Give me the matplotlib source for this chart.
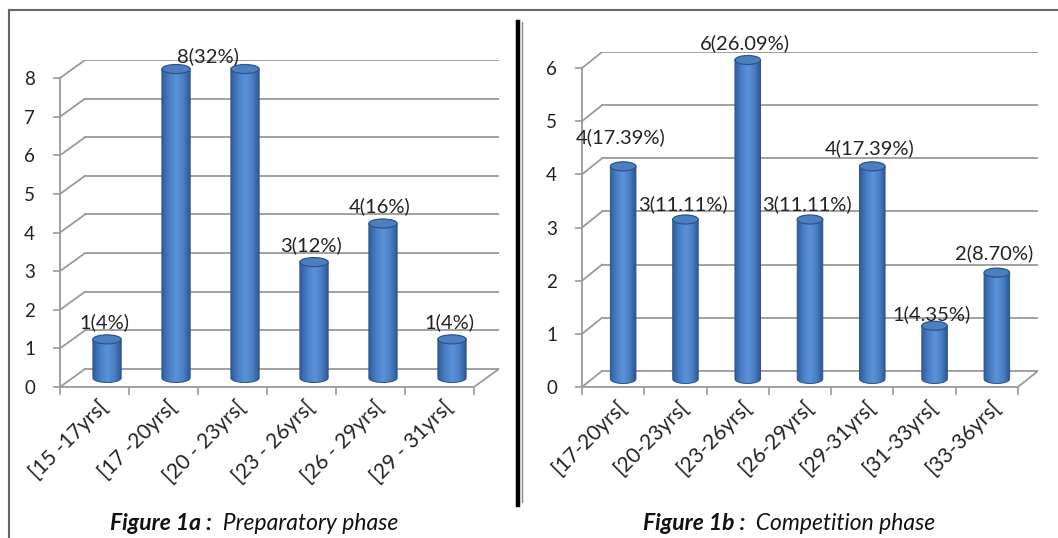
import matplotlib.pyplot as plt
import numpy as np
from matplotlib.patches import Ellipse, Polygon
from matplotlib.colors import LinearSegmentedColormap

plt.rcParams['font.family'] = ['Lato', 'DejaVu Sans']

W, H = 1058, 538

# Figure 1a - preparatory phase
prep_groups = ['[15 -17yrs[', '[17 -20yrs[', '[20 - 23yrs[', '[23 - 26yrs[',
               '[26 - 29yrs[', '[29 - 31yrs[']
prep_counts = [1, 8, 8, 3, 4, 1]
prep_label_at = [0, 1.5, 3, 4, 5]
prep_label_txt = ['1(4%)', '8(32%)', '3(12%)', '4(16%)', '1(4%)']

# Figure 1b - competition phase
comp_groups = ['[17-20yrs[', '[20-23yrs[', '[23-26yrs[', '[26-29yrs[',
               '[29-31yrs[', '[31-33yrs[', '[33-36yrs[']
comp_counts = [4, 3, 6, 3, 4, 1, 2]
comp_label_at = [0, 1, 2, 3, 4, 5, 6]
comp_label_txt = ['4(17.39%)', '3(11.11%)', '6(26.09%)', '3(11.11%)',
                  '4(17.39%)', '1(4.35%)', '2(8.70%)']

GRID = '#9a9a9a'
cyl_cmap = LinearSegmentedColormap.from_list(
    'cyl', ['#2f5e9e', '#4a7fc6', '#5b92d8', '#4a7fc4', '#2b558e'])
FS_TICK = 13.5
FS_CAT = 15
FS_LBL = 14.5
FS_CAP = 16.5


def add_px_axes(x0, x1, ybot, ytop):
    return fig.add_axes([x0 / W, 1 - ybot / H, (x1 - x0) / W, (ybot - ytop) / H])


def draw_panel(ax, groups, counts, label_at, label_txt, ymax,
               ppx, ppy, dpx, dpy, label_rise):
    n = len(groups)
    dx, dy = dpx / ppx, dpy / ppy
    ax.set_facecolor('none')
    ax.set_xlim(0, n + dx)
    ax.set_ylim(0, ymax + dy)

    # walls and floor
    for k in range(ymax + 1):
        ax.plot([0, dx], [k, k + dy], color=GRID, lw=1.3, zorder=1)
        ax.plot([dx, n + dx], [k + dy, k + dy], color=GRID, lw=1.3, zorder=1)
    ax.plot([n, n + dx], [0, dy], color=GRID, lw=1.3, zorder=1)

    for s in ['top', 'right']:
        ax.spines[s].set_visible(False)
    for s in ['left', 'bottom']:
        ax.spines[s].set_color(GRID)
        ax.spines[s].set_linewidth(1.3)
    ax.spines['left'].set_bounds(0, ymax)
    ax.spines['bottom'].set_bounds(0, n)
    ax.set_yticks(range(ymax + 1))
    ax.set_xticks(range(n + 1))
    ax.set_xticklabels([])
    ax.tick_params(axis='y', length=5, width=1.2, color=GRID, pad=13,
                   labelsize=FS_TICK, labelcolor='#222222')
    ax.tick_params(axis='x', length=6, width=1.2, color=GRID)

    for i, g in enumerate(groups):
        ax.annotate(g, xy=(i + 0.5, 0), xytext=(10, -17), textcoords='offset pixels',
                    rotation=45, ha='right', va='center', rotation_mode='anchor',
                    fontsize=FS_CAT, color='#222222')

    # cylinders
    w = 0.41
    eh = 9 / ppy
    grad = np.linspace(0, 1, 64).reshape(1, -1)
    for i, v in enumerate(counts):
        xc = i + 0.5 + dx / 2
        yb = dy / 2
        yt = v + dy / 2
        th = np.linspace(np.pi, 2 * np.pi, 40)
        arc = np.column_stack([xc + w / 2 * np.cos(th), yb + eh / 2 * np.sin(th)])
        verts = np.vstack([[xc - w / 2, yt], arc, [xc + w / 2, yt]])
        body = Polygon(verts, closed=True, facecolor='none', edgecolor='#2c5489',
                       lw=0.7, zorder=4)
        ax.add_patch(body)
        im = ax.imshow(grad, extent=[xc - w / 2, xc + w / 2, yb - eh, yt],
                       cmap=cyl_cmap, aspect='auto', zorder=3, interpolation='bilinear')
        im.set_clip_path(body)
        ax.add_patch(Ellipse((xc, yt), w, eh, facecolor='#4d7fc0',
                             edgecolor='#2c5489', lw=0.9, zorder=5))

    ax.set_xlim(0, n + dx)
    ax.set_ylim(0, ymax + dy)

    for pos, txt, rise in zip(label_at, label_txt, label_rise):
        v = counts[int(pos)]
        ax.annotate(txt, xy=(pos + 0.5 + dx / 2, v + dy / 2), xytext=(-3, rise),
                    textcoords='offset pixels', ha='center', va='center',
                    fontsize=FS_LBL, color='#222222', zorder=6)


fig = plt.figure(figsize=(W / 100, H / 100), dpi=100)

# page frame, separator and captions
canvas = fig.add_axes([0, 0, 1, 1])
canvas.set_xlim(0, W)
canvas.set_ylim(H, 0)
canvas.axis('off')
canvas.plot([9, 9], [H, 10], color='#666666', lw=1.5)
canvas.plot([9, W], [10, 10], color='#666666', lw=1.5)
canvas.plot([518, 518], [22, 505], color='black', lw=3.2)
canvas.plot([522, 522], [22, 502], color='#8a8a8a', lw=1)

for x0, head, tail in [(110, 'Figure 1a :', '  Preparatory phase'),
                       (643, 'Figure 1b :', '  Competition phase')]:
    t1 = canvas.text(x0, 524, head, fontsize=FS_CAP, fontweight='bold', fontstyle='italic',
                     va='center', ha='left', color='#111111')
    canvas.annotate(tail, xy=(1, 0.5), xycoords=t1, va='center', ha='left',
                    fontsize=FS_CAP, fontstyle='italic', color='#111111')

ax1 = add_px_axes(60, 499, 387, 60)
draw_panel(ax1, prep_groups, prep_counts, prep_label_at, prep_label_txt, 8,
           ppx=(473 - 60) / 6, ppy=(387 - 79) / 8, dpx=25, dpy=18,
           label_rise=[17, 13, 17, 17, 17])

ax2 = add_px_axes(582, 1038, 387, 52)
draw_panel(ax2, comp_groups, comp_counts, comp_label_at, comp_label_txt, 6,
           ppx=(1017 - 582) / 7, ppy=(387 - 69) / 6, dpx=20, dpy=16,
           label_rise=[29, 15, 17, 15, 18, 12, 19])

fig.savefig('out.png', dpi=100)
